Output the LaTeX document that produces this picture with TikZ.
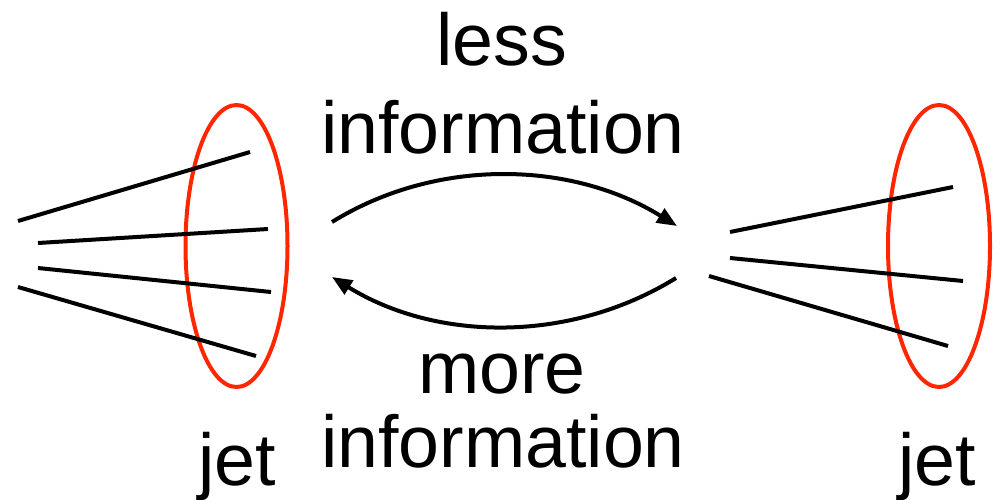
\documentclass[tikz,border=0pt]{standalone}
\usepackage{fontspec}
\setmainfont{Liberation Sans}
\usetikzlibrary{arrows.meta,shapes.geometric}
\definecolor{jetred}{RGB}{255,38,0}
\tikzset{
  track/.style={line width=4pt, line cap=butt},
  cone/.style={draw=jetred, line width=4pt, ellipse, inner sep=0pt,
               minimum width=102pt, minimum height=282pt},
  flow/.style={line width=4pt, -{Triangle[length=20pt,width=16pt]}},
  label/.style={anchor=base, inner sep=0pt,
                font=\fontsize{73.5pt}{88pt}\selectfont}
}
\begin{document}
\begin{tikzpicture}[x=1pt, y=-1pt]
\useasboundingbox (0,0) rectangle (1001,499);

% jet cones
\node[cone] (coneL) at (236.5,246) {};
\node[cone] (coneR) at (939,246) {};

% particle tracks, left jet (four)
\coordinate (l1a) at (18,221);  \coordinate (l1b) at (250,152);
\coordinate (l2a) at (38,243);  \coordinate (l2b) at (268,229);
\coordinate (l3a) at (38,268);  \coordinate (l3b) at (271,292);
\coordinate (l4a) at (18,287);  \coordinate (l4b) at (256,356);
\draw[track] (l1a) -- (l1b);
\draw[track] (l2a) -- (l2b);
\draw[track] (l3a) -- (l3b);
\draw[track] (l4a) -- (l4b);

% particle tracks, right jet (three)
\coordinate (r1a) at (730,232); \coordinate (r1b) at (953,187);
\coordinate (r2a) at (730,258); \coordinate (r2b) at (963,281);
\coordinate (r3a) at (709,276); \coordinate (r3b) at (948,346);
\draw[track] (r1a) -- (r1b);
\draw[track] (r2a) -- (r2b);
\draw[track] (r3a) -- (r3b);

% arrows between the two pictures
\coordinate (upS) at (332,222);  \coordinate (upE) at (677,226);
\coordinate (dnS) at (676,278);  \coordinate (dnE) at (332,277);
\draw[flow] (upS) .. controls (437,157) and (572,161) .. (upE);
\draw[flow] (dnS) .. controls (571,343) and (437,342) .. (dnE);

% labels
\node[label] (less)  at (502,65)  {less};
\node[label] (infoA) at (503,153) {information};
\node[label] (more)  at (502,393) {more};
\node[label] (infoB) at (503,467) {information};
\node[label] (jetL)  at (237,485) {jet};
\node[label] (jetR)  at (937,485) {jet};
\end{tikzpicture}
\end{document}
